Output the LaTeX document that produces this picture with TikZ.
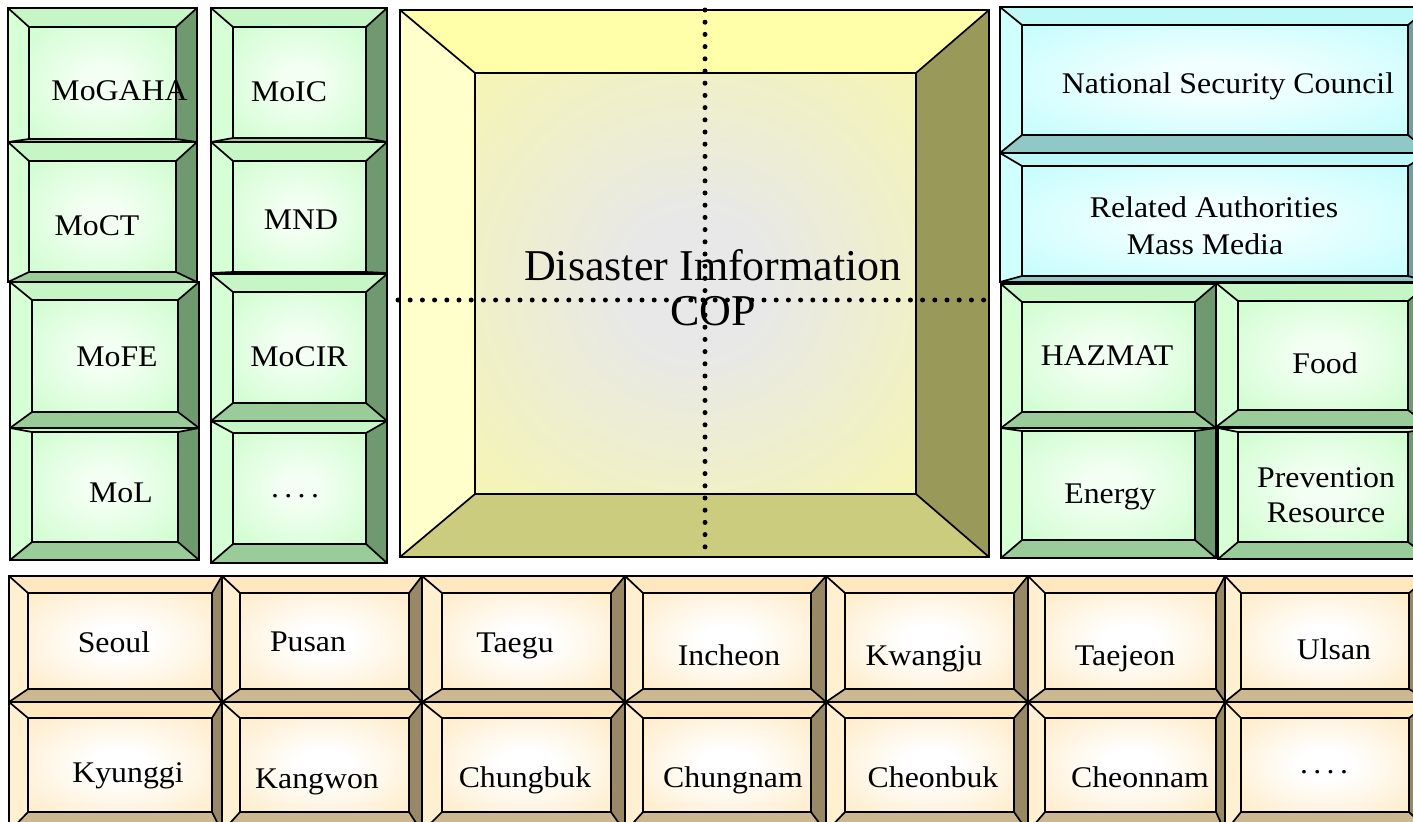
\documentclass[tikz,border=0pt]{standalone}
\usepackage{fontspec}
\setmainfont{Liberation Serif}
\newfontfamily\lblfont[FakeStretch=1.06]{Liberation Serif}
\definecolor{gL}{HTML}{D6FFD6}
\definecolor{gT}{HTML}{C6F6C6}
\definecolor{gR}{HTML}{6F9A6F}
\definecolor{gB}{HTML}{99CC99}
\definecolor{gE}{HTML}{C2FCC2}
\definecolor{gC}{HTML}{F2FFF2}
\definecolor{cL}{HTML}{D0FFFF}
\definecolor{cT}{HTML}{C0F8F8}
\definecolor{cR}{HTML}{70A0A0}
\definecolor{cB}{HTML}{90C8C8}
\definecolor{cE}{HTML}{B4FCFC}
\definecolor{cC}{HTML}{F2FFFF}
\definecolor{yL}{HTML}{FFFFCC}
\definecolor{yT}{HTML}{FFFFAA}
\definecolor{yR}{HTML}{99995A}
\definecolor{yB}{HTML}{CCCC7F}
\definecolor{yE}{HTML}{FAFAA0}
\definecolor{yC}{HTML}{E8E8E8}
\definecolor{tL}{HTML}{FFF0D2}
\definecolor{tT}{HTML}{FFE8C0}
\definecolor{tR}{HTML}{998866}
\definecolor{tB}{HTML}{CCB890}
\definecolor{tE}{HTML}{FFE4B4}
\definecolor{tC}{HTML}{FFFFFF}
\pgfdeclareradialshading{gRad}{\pgfpoint{0bp}{0bp}}{color(0bp)=(gC); color(8bp)=(gC); color(46bp)=(gE); color(100bp)=(gE)}
\pgfdeclareradialshading{cRad}{\pgfpoint{0bp}{0bp}}{color(0bp)=(cC); color(8bp)=(cC); color(46bp)=(cE); color(100bp)=(cE)}
\pgfdeclareradialshading{yRad}{\pgfpoint{0bp}{0bp}}{color(0bp)=(yC); color(8bp)=(yC); color(46bp)=(yE); color(100bp)=(yE)}
\pgfdeclareradialshading{tRad}{\pgfpoint{0bp}{0bp}}{color(0bp)=(tC); color(8bp)=(tC); color(46bp)=(tE); color(100bp)=(tE)}
\tikzset{
  edge/.style={draw=black, line width=0.85pt, line join=miter},
  lbl/.style={font=\lblfont\fontsize{15}{17}\selectfont, inner sep=0pt, anchor=base},
  biglbl/.style={font=\fontsize{22}{23}\selectfont, inner sep=0pt, anchor=base},
  dotline/.style={line width=2.5pt, line cap=round, dash pattern=on 0pt off 6.1pt}
}
\newcommand\fourdots{.\kern2.7pt.\kern2.7pt.\kern2.7pt.}
% #1 scheme, #2-#5 outer x1 y1 x2 y2, #6-#9 inner x1 y1 x2 y2
\newcommand\bevbox[9]{%
  \fill[#1L] (#2,#3) -- (#6,#7) -- (#6,#9) -- (#2,#5) -- cycle;
  \fill[#1T] (#2,#3) -- (#4,#3) -- (#8,#7) -- (#6,#7) -- cycle;
  \fill[#1R] (#4,#3) -- (#4,#5) -- (#8,#9) -- (#8,#7) -- cycle;
  \fill[#1B] (#2,#5) -- (#4,#5) -- (#8,#9) -- (#6,#9) -- cycle;
  \shade[shading=#1Rad] (#6,#7) rectangle (#8,#9);
  \draw[edge] (#2,#3) -- (#6,#7) (#4,#3) -- (#8,#7) (#4,#5) -- (#8,#9) (#2,#5) -- (#6,#9);
  \draw[edge] (#2,#3) rectangle (#4,#5);
  \draw[edge] (#6,#7) rectangle (#8,#9);
}
\begin{document}
\begin{tikzpicture}[x=0.5pt,y=-0.5pt]
\useasboundingbox[fill=white] (0,0) rectangle (1413,821);
% left column 1
\bevbox{g}{8}{8}{197}{142}{29}{27}{176}{139}
\bevbox{g}{8}{142}{197}{282}{29}{161}{176}{272}
\bevbox{g}{10}{428}{199}{560}{32}{432}{178}{542}
\bevbox{g}{10}{282}{199}{428}{32}{300}{178}{412}
% left column 2
\bevbox{g}{211}{8}{387}{142}{233}{27}{366}{138}
\bevbox{g}{211}{142}{387}{273}{233}{161}{366}{272}
\bevbox{g}{211}{421}{387}{563}{233}{433}{366}{544}
\bevbox{g}{211}{274}{387}{421}{233}{292}{366}{403}
% centre
\bevbox{y}{400}{10}{989}{557}{475}{73}{916}{494}
% right
\bevbox{c}{1000}{153}{1430}{282}{1022}{166}{1408}{276}
\bevbox{c}{1000}{7}{1430}{153}{1022}{25}{1408}{135}
\bevbox{g}{1001}{428}{1216}{558}{1022}{431}{1195}{540}
\bevbox{g}{1218}{428}{1430}{559}{1238}{432}{1408}{542}
\bevbox{g}{1001}{284}{1216}{428}{1022}{302}{1195}{412}
\bevbox{g}{1216}{283}{1430}{427}{1238}{301}{1408}{410}
% bottom rows
\bevbox{t}{9}{576}{222}{702}{28}{593}{212}{689}
\bevbox{t}{222}{576}{422}{702}{240}{593}{409}{689}
\bevbox{t}{422}{576}{625}{702}{442}{593}{611}{689}
\bevbox{t}{625}{576}{826}{702}{643}{593}{811}{689}
\bevbox{t}{826}{576}{1028}{702}{845}{593}{1014}{689}
\bevbox{t}{1028}{576}{1225}{702}{1045}{593}{1216}{689}
\bevbox{t}{1225}{576}{1430}{702}{1241}{593}{1409}{689}
\bevbox{t}{9}{702}{222}{832}{28}{718}{212}{812}
\bevbox{t}{222}{702}{422}{832}{240}{718}{409}{812}
\bevbox{t}{422}{702}{625}{832}{442}{718}{611}{812}
\bevbox{t}{625}{702}{826}{832}{643}{718}{811}{812}
\bevbox{t}{826}{702}{1028}{832}{845}{718}{1014}{812}
\bevbox{t}{1028}{702}{1225}{832}{1045}{718}{1216}{812}
\bevbox{t}{1225}{702}{1430}{832}{1241}{718}{1409}{812}
% centre text and dotted axes
\node[biglbl] (dis1) at (713,280) {Disaster Imformation};
\node[biglbl] (dis2) at (713,325) {COP};
\coordinate (vt) at (705,10);
\coordinate (vb) at (705,553);
\coordinate (hl) at (398,300);
\coordinate (hr) at (989,300);
\draw[dotline] (vt) -- (vb);
\draw[dotline] (hl) -- (hr);
% labels
\node[lbl] (mogaha) at (119.5,100) {MoGAHA};
\node[lbl] (moct) at (97,235) {MoCT};
\node[lbl] (mofe) at (117,366) {MoFE};
\node[lbl] (mol) at (121,502) {MoL};
\node[lbl] (moic) at (289,101) {MoIC};
\node[lbl] (mnd) at (301,229) {MND};
\node[lbl] (mocir) at (299,366) {MoCIR};
\node[lbl] (etc1) at (295,497) {\fourdots};
\node[lbl] (nsc) at (1228,93) {National Security Council};
\node[lbl] (ra1) at (1214,217) {Related Authorities};
\node[lbl] (ra2) at (1205,254) {Mass Media};
\node[lbl] (hazmat) at (1107,365) {HAZMAT};
\node[lbl] (food) at (1325,373) {Food};
\node[lbl] (energy) at (1110,503) {Energy};
\node[lbl] (prev1) at (1326,487) {Prevention};
\node[lbl] (prev2) at (1326,522) {Resource};
\node[lbl] (seoul) at (114,652) {Seoul};
\node[lbl] (pusan) at (308,651) {Pusan};
\node[lbl] (taegu) at (515,652) {Taegu};
\node[lbl] (incheon) at (729,665) {Incheon};
\node[lbl] (kwangju) at (924,665) {Kwangju};
\node[lbl] (taejeon) at (1125,665) {Taejeon};
\node[lbl] (ulsan) at (1334,659) {Ulsan};
\node[lbl] (kyunggi) at (128,782) {Kyunggi};
\node[lbl] (kangwon) at (317,788) {Kangwon};
\node[lbl] (chungbuk) at (525,787) {Chungbuk};
\node[lbl] (chungnam) at (733,787) {Chungnam};
\node[lbl] (cheonbuk) at (933,787) {Cheonbuk};
\node[lbl] (cheonnam) at (1140,787) {Cheonnam};
\node[lbl] (etc2) at (1324,773) {\fourdots};
\end{tikzpicture}
\end{document}
